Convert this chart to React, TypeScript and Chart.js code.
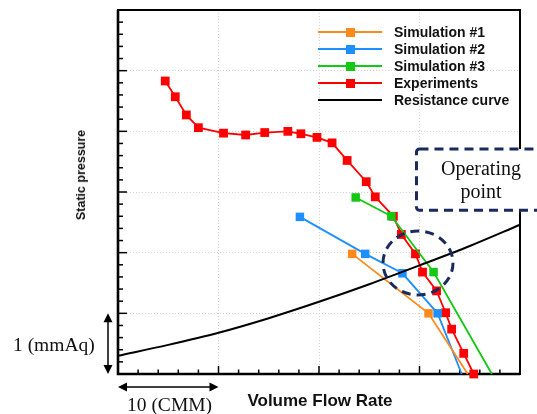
import React, { useEffect, useRef } from "react";
import { Chart, registerables } from "chart.js";

Chart.register(...registerables);

// ---- data (x: volume flow rate in CMM, y: static pressure in mmAq) ----
const sim1X = [23.3, 30.9, 34.8];
const sim1Y = [1.98, 1.0, 0.0];
const sim2X = [18.1, 24.6, 28.3, 31.8, 34.2];
const sim2Y = [2.59, 1.98, 1.66, 1.0, 0.0];
const sim3X = [23.65, 27.2, 31.4, 37.2];
const sim3Y = [2.91, 2.6, 1.68, 0.0];
const expX = [4.7, 5.7, 6.8, 8.0, 10.5, 12.7, 14.6, 16.9, 18.2, 19.8, 21.3, 22.8, 24.7, 25.6, 27.4, 28.2, 29.6, 30.3, 31.7, 32.6, 33.2, 34.4, 35.4];
const expY = [4.83, 4.57, 4.27, 4.06, 3.97, 3.94, 3.98, 4.0, 3.96, 3.9, 3.81, 3.52, 3.17, 2.92, 2.6, 2.3, 1.98, 1.68, 1.37, 1.01, 0.74, 0.34, 0.0];
const resX = [0, 5, 10, 15, 20, 25, 30, 35, 40];
const resY = [0.3, 0.48, 0.68, 0.92, 1.19, 1.48, 1.79, 2.11, 2.46];

const seriesNames = ["Simulation #1", "Simulation #2", "Simulation #3", "Experiments", "Resistance curve"];
const seriesColors = ["#ff8a1c", "#1e8fff", "#14c814", "#ff0000", "#000000"];
const seriesMarkers = [true, true, true, true, false];

const xMin = 0, xMax = 40, xMajor = 10, xMinor = 2;
const yMin = 0, yMax = 6, yMajor = 1, yMinor = 0.2;

// annotation anchors (data units)
const opCircle = { x: 29.85, y: 1.83 };
const opBox = { x: 29.7, yTop: 3.71, yBottom: 2.7 };

const NAVY = "#1b2a5c";

const toPts = (xs: number[], ys: number[]) => xs.map((x, i) => ({ x, y: ys[i] }));
const lastHidden = (n: number, r: number) => Array.from({ length: n }, (_, i) => (i === n - 1 ? 0 : r));

function arrowHead(ctx: CanvasRenderingContext2D, x: number, y: number, dx: number, dy: number) {
  const L = 9, W = 4.5;
  const px = -dy, py = dx;
  ctx.beginPath();
  ctx.moveTo(x, y);
  ctx.lineTo(x - dx * L + px * W, y - dy * L + py * W);
  ctx.lineTo(x - dx * L - px * W, y - dy * L - py * W);
  ctx.closePath();
  ctx.fill();
}

const decorPlugin = {
  id: "decor",
  beforeDatasetsDraw(chart: any) {
    const { ctx, chartArea: a, scales } = chart;
    const x = scales.x, y = scales.y;
    ctx.save();
    ctx.strokeStyle = "#000";
    ctx.lineWidth = 1.5;
    // inner ticks on bottom axis
    const nx = Math.round((xMax - xMin) / xMinor);
    for (let i = 0; i <= nx; i++) {
      const v = xMin + i * xMinor;
      const major = Math.abs(v / xMajor - Math.round(v / xMajor)) < 1e-6;
      const px = x.getPixelForValue(v);
      ctx.beginPath();
      ctx.moveTo(px, a.bottom);
      ctx.lineTo(px, a.bottom - (major ? 8 : 4.5));
      ctx.stroke();
    }
    const ny = Math.round((yMax - yMin) / yMinor);
    for (let i = 0; i <= ny; i++) {
      const v = yMin + i * yMinor;
      const major = Math.abs(v / yMajor - Math.round(v / yMajor)) < 1e-6;
      const py = y.getPixelForValue(v);
      ctx.beginPath();
      ctx.moveTo(a.left, py);
      ctx.lineTo(a.left + (major ? 9 : 5), py);
      ctx.stroke();
    }
    // frame
    ctx.lineWidth = 2;
    ctx.strokeRect(a.left, a.top, a.right - a.left, a.bottom - a.top);
    ctx.lineWidth = 2.6;
    ctx.beginPath();
    ctx.moveTo(a.left, a.top);
    ctx.lineTo(a.left, a.bottom);
    ctx.lineTo(a.right, a.bottom);
    ctx.stroke();

    // scale arrows
    ctx.fillStyle = "#000";
    ctx.lineWidth = 1.5;
    const ax = a.left - 10;
    const y1 = y.getPixelForValue(1), y0 = y.getPixelForValue(0);
    ctx.beginPath();
    ctx.moveTo(ax, y1 + 4);
    ctx.lineTo(ax, y0 - 4);
    ctx.stroke();
    arrowHead(ctx, ax, y1, 0, -1);
    arrowHead(ctx, ax, y0, 0, 1);
    const ay = a.bottom + 13;
    const x0 = x.getPixelForValue(0), x10 = x.getPixelForValue(10);
    ctx.beginPath();
    ctx.moveTo(x0 + 4, ay);
    ctx.lineTo(x10 - 4, ay);
    ctx.stroke();
    arrowHead(ctx, x0, ay, -1, 0);
    arrowHead(ctx, x10, ay, 1, 0);
    ctx.restore();
  },
  afterDatasetsDraw(chart: any) {
    const { ctx, scales } = chart;
    const x = scales.x, y = scales.y;
    ctx.save();
    ctx.strokeStyle = NAVY;
    ctx.lineWidth = 3;
    ctx.setLineDash([9, 6]);
    // dashed circle around operating point
    const cx = x.getPixelForValue(opCircle.x), cy = y.getPixelForValue(opCircle.y);
    ctx.beginPath();
    ctx.ellipse(cx, cy, 35, 32, 0, 0, Math.PI * 2);
    ctx.stroke();
    // dashed box
    const bx = x.getPixelForValue(opBox.x);
    const bt = y.getPixelForValue(opBox.yTop);
    const bb = y.getPixelForValue(opBox.yBottom);
    const bw = chart.width + 20 - bx;
    ctx.fillStyle = "#fff";
    ctx.fillRect(bx, bt, bw, bb - bt);
    ctx.beginPath();
    ctx.roundRect(bx, bt, bw, bb - bt, 3);
    ctx.stroke();
    ctx.restore();
  },
};

const abs = (extra: React.CSSProperties): React.CSSProperties => ({
  position: "absolute",
  whiteSpace: "nowrap",
  lineHeight: 1,
  ...extra,
});

export default function App() {
  const ref = useRef<HTMLCanvasElement>(null);

  useEffect(() => {
    document.body.style.margin = "0";
    document.body.style.overflow = "hidden";
    const canvas = ref.current;
    if (!canvas) return;
    const line = (i: number, xs: number[], ys: number[], radii: number | number[], extra: any = {}) => ({
      label: seriesNames[i],
      data: toPts(xs, ys),
      borderColor: seriesColors[i],
      backgroundColor: seriesColors[i],
      borderWidth: 1.8,
      pointStyle: "rect",
      pointRadius: radii,
      pointBorderWidth: 0,
      tension: 0,
      clip: false,
      ...extra,
    });
    const chart = new Chart(canvas, {
      type: "line",
      data: {
        datasets: [
          line(4, resX, resY, 0, { borderWidth: 2, cubicInterpolationMode: "monotone" }),
          line(0, sim1X, sim1Y, lastHidden(sim1X.length, 6)),
          line(1, sim2X, sim2Y, lastHidden(sim2X.length, 6)),
          line(2, sim3X, sim3Y, lastHidden(sim3X.length, 6)),
          line(3, expX, expY, 6.2),
        ],
      },
      options: {
        responsive: false,
        animation: false,
        devicePixelRatio: 1,
        layout: { padding: { left: 118, top: 10, right: 17, bottom: 40 } },
        plugins: { legend: { display: false }, tooltip: { enabled: false } },
        scales: {
          x: {
            type: "linear",
            min: xMin,
            max: xMax,
            ticks: { display: false, stepSize: xMajor },
            grid: { color: "#cfcfcf", lineWidth: 1, drawTicks: false },
            border: { display: false, dash: [1, 2] },
          },
          y: {
            type: "linear",
            min: yMin,
            max: yMax,
            ticks: { display: false, stepSize: yMajor },
            grid: { color: "#cfcfcf", lineWidth: 1, drawTicks: false },
            border: { display: false, dash: [1, 2] },
          },
        },
      },
      plugins: [decorPlugin],
    } as any);
    return () => chart.destroy();
  }, []);

  const legendTop = 32;
  const legendStep = 17;

  return (
    <div style={{ position: "relative", width: 537, height: 414, overflow: "hidden", background: "#fff" }}>
      <canvas ref={ref} width={537} height={414} style={{ position: "absolute", left: 0, top: 0 }} />
      {/* legend */}
      {seriesNames.map((name, i) => {
        const cy = legendTop + i * legendStep;
        return (
          <React.Fragment key={name}>
            <div style={{ position: "absolute", left: 318, width: 64, top: cy - 1, height: 2, background: seriesColors[i] }} />
            {seriesMarkers[i] && (
              <div style={{ position: "absolute", left: 346, top: cy - 4.5, width: 9, height: 9, background: seriesColors[i] }} />
            )}
            <div
              style={abs({
                left: 394,
                top: cy,
                transform: "translateY(-50%)",
                font: "bold 14px 'Liberation Sans', Arial, sans-serif",
                color: "#111",
              })}
            >
              {name}
            </div>
          </React.Fragment>
        );
      })}
      {/* axis titles */}
      <div
        style={abs({
          left: 81,
          top: 175,
          transform: "translate(-50%, -50%) rotate(-90deg)",
          font: "bold 12.5px 'Liberation Sans', Arial, sans-serif",
          color: "#111",
        })}
      >
        Static pressure
      </div>
      <div
        style={abs({
          left: 320,
          top: 401,
          transform: "translate(-50%, -50%)",
          font: "bold 17px 'Liberation Sans', Arial, sans-serif",
          color: "#111",
        })}
      >
        Volume Flow Rate
      </div>
      {/* scale annotations */}
      <div style={abs({ left: 13, top: 345, transform: "translateY(-50%)", font: "19.5px 'Liberation Serif', 'Times New Roman', serif", color: "#111" })}>
        1 (mmAq)
      </div>
      <div style={abs({ left: 127, top: 405, transform: "translateY(-50%)", font: "19.5px 'Liberation Serif', 'Times New Roman', serif", color: "#111" })}>
        10 (CMM)
      </div>
      {/* operating point label */}
      <div
        style={abs({
          left: 481,
          top: 180,
          transform: "translate(-50%, -50%)",
          textAlign: "center",
          lineHeight: "24px",
          font: "20px 'Liberation Serif', 'Times New Roman', serif",
          color: "#111",
        })}
      >
        Operating
        <br />
        point
      </div>
    </div>
  );
}
